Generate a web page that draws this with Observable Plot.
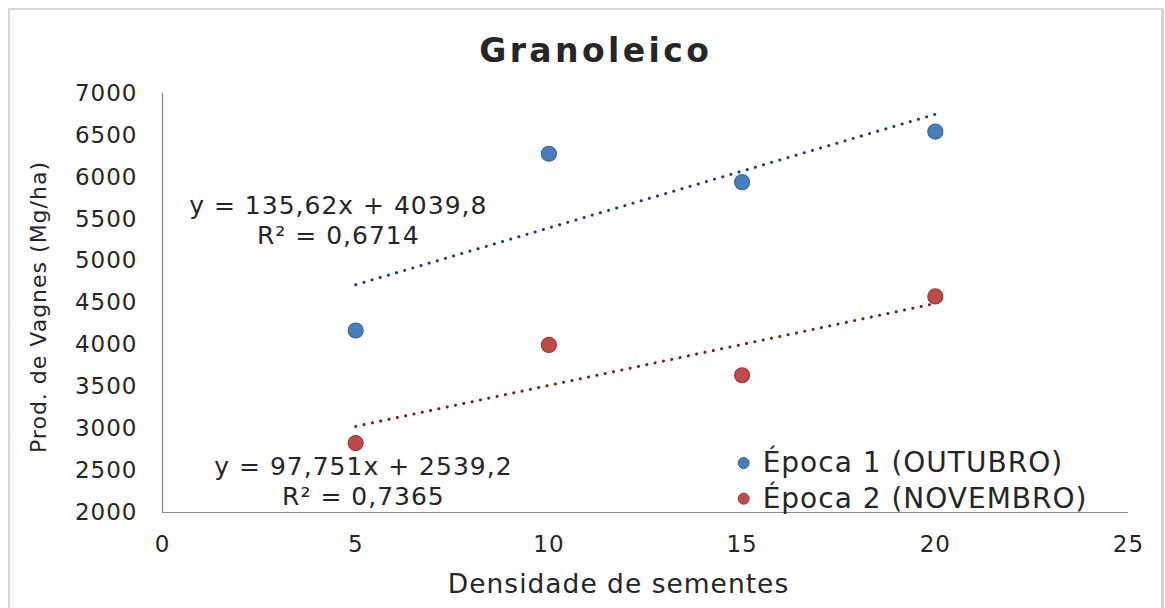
<!DOCTYPE html>
<html>
<head>
<meta charset="utf-8">
<script src="https://cdn.jsdelivr.net/npm/d3@7"></script>
<script src="https://cdn.jsdelivr.net/npm/@observablehq/plot@0.6"></script>
<style>
  html, body { margin: 0; padding: 0; background: #ffffff; }
  #wrap { position: relative; width: 1165px; height: 608px; overflow: hidden; background: #fff; }
  #frame { position: absolute; left: 8px; top: 8px; width: 1151px; height: 700px;
           border-left: 2px solid #d9d9d9; border-top: 2px solid #d9d9d9; border-right: 3px solid #d4d4d4; }
  #title { position: absolute; left: 394px; top: 34px; width: 400px; text-align: center;
           font-family: "DejaVu Sans", sans-serif; font-weight: bold; font-size: 33px; line-height: 33px;
           letter-spacing: 3.4px; padding-left: 3.4px; box-sizing: border-box; color: #262626; }
  #chart { position: absolute; left: 0; top: 0; }
</style>
</head>
<body>
<div id="wrap">
  <div id="frame"></div>
  <div id="chart"></div>
  <div id="title"></div>
</div>
<script>
// ---- data ----
const titleText = "Granoleico";
const xLabel = "Densidade de sementes";
const yLabel = "Prod. de Vagnes (Mg/ha)";
const densidade = [5, 10, 15, 20];
const epoca1 = [4172, 6281, 5942, 6545];
const epoca2 = [2828, 4000, 3638, 4578];
const seriesNames = ["Época 1 (OUTUBRO)", "Época 2 (NOVEMBRO)"];
const equations = ["y = 135,62x + 4039,8\nR² = 0,6714", "y = 97,751x + 2539,2\nR² = 0,7365"];
const xTicks = [0, 5, 10, 15, 20, 25];
const yTicks = [2000, 2500, 3000, 3500, 4000, 4500, 5000, 5500, 6000, 6500, 7000];

// ---- build ----
document.getElementById("title").textContent = titleText;

const pts1 = densidade.map((x, i) => ({x, y: epoca1[i]}));
const pts2 = densidade.map((x, i) => ({x, y: epoca2[i]}));

const blueFill = "#4a7ebb", blueStroke = "#3a679e", blueTrend = "#1f3a78";
const redFill = "#be4b48", redStroke = "#9a3a37", redTrend = "#7a1c1c";
const ink = "#262626";

const eqPos = [{x: 4.55, y: 5500}, {x: 5.2, y: 2385}];
const legPos = [{x: 15.04, y: 2590}, {x: 15.04, y: 2165}];

const chart = Plot.plot({
  width: 1165,
  height: 608,
  marginLeft: 162,
  marginRight: 37,
  marginTop: 93,
  marginBottom: 96,
  x: {domain: [0, 25]},
  y: {domain: [2000, 7000]},
  style: {fontFamily: "'DejaVu Sans', sans-serif", color: ink, letterSpacing: "0.1em", background: "transparent", overflow: "visible"},
  marks: [
    Plot.ruleY([2000], {stroke: "#8c8c8c", strokeWidth: 1.2}),
    Plot.ruleX([0], {stroke: "#8c8c8c", strokeWidth: 1.2}),
    Plot.axisX({ticks: xTicks, tickSize: 0, tickPadding: 23, fontSize: 23, label: null, tickFormat: d3.format("d"), fill: ink}),
    Plot.axisY({ticks: yTicks, tickSize: 0, tickPadding: 25, fontSize: 23, label: null, tickFormat: d3.format("d"), fill: ink}),
    Plot.text([xLabel], {frameAnchor: "bottom", dx: -27, dy: 72, fontSize: 26.5, fill: ink, lineAnchor: "middle", textAnchor: "middle"}),
    Plot.text([yLabel], {frameAnchor: "left", dx: -124, dy: 4, rotate: -90, fontSize: 22, fill: ink, lineAnchor: "middle", textAnchor: "middle"}),
    Plot.linearRegressionY(pts1, {x: "x", y: "y", ci: 0, stroke: blueTrend, strokeWidth: 3, strokeDasharray: "0.1,8.4", strokeLinecap: "round"}),
    Plot.linearRegressionY(pts2, {x: "x", y: "y", ci: 0, stroke: redTrend, strokeWidth: 3, strokeDasharray: "0.1,8.4", strokeLinecap: "round"}),
    Plot.dot(pts1, {x: "x", y: "y", r: 7.5, fill: blueFill, stroke: blueStroke, strokeWidth: 1.2}),
    Plot.dot(pts2, {x: "x", y: "y", r: 7.5, fill: redFill, stroke: redStroke, strokeWidth: 1.2}),
    Plot.text(equations, {x: (d, i) => eqPos[i].x, y: (d, i) => eqPos[i].y, fontSize: 25, lineHeight: 1.2, lineAnchor: "middle", textAnchor: "middle", fill: ink}),
    Plot.dot(seriesNames, {x: (d, i) => legPos[i].x, y: (d, i) => legPos[i].y, r: 5.5, fill: (d, i) => [blueFill, redFill][i], stroke: (d, i) => [blueStroke, redStroke][i], strokeWidth: 1}),
    Plot.text(seriesNames, {x: (d, i) => legPos[i].x, y: (d, i) => legPos[i].y, dx: 19, textAnchor: "start", fontSize: 28, fill: ink})
  ]
});
document.getElementById("chart").appendChild(chart);
</script>
</body>
</html>
